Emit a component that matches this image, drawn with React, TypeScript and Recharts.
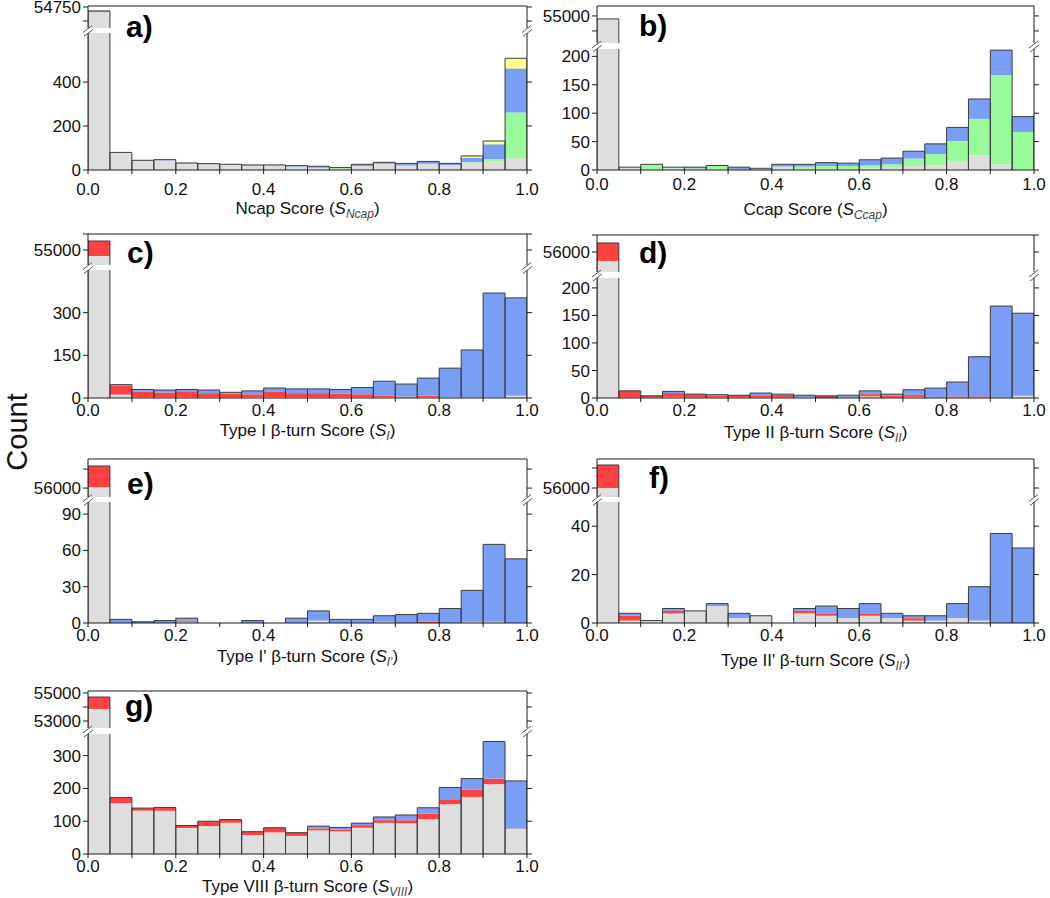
import React from "react";
import { BarChart, Bar, XAxis, YAxis, ReferenceLine } from "recharts";

// bin centres of the 20 score bins (0.05 wide)
const BIN_CENTERS = [
  0.025, 0.075, 0.125, 0.175, 0.225, 0.275, 0.325, 0.375, 0.425, 0.475,
  0.525, 0.575, 0.625, 0.675, 0.725, 0.775, 0.825, 0.875, 0.925, 0.975,
];
const X_TICKS = [0, 0.1, 0.2, 0.3, 0.4, 0.5, 0.6, 0.7, 0.8, 0.9, 1];

// a) Ncap
const aGray = [54660, 80, 44, 44, 29, 26, 26, 20, 22, 16, 10, 6, 18, 28, 20, 28, 22, 34, 41, 54];
const aGreen = [0, 0, 0, 0, 0, 0, 0, 0, 0, 0, 0, 5, 0, 0, 0, 0, 0, 2, 9, 208];
const aBlue = [20, 0, 0, 3, 3, 3, 0, 3, 1, 4, 7, 0, 8, 7, 10, 11, 8, 20, 67, 200];
const aYellow = [0, 0, 0, 0, 0, 0, 0, 0, 0, 0, 0, 0, 0, 0, 0, 0, 0, 8, 15, 46];

// b) Ccap
const bGray = [54950, 5, 1, 3, 1, 2, 0, 3, 5, 2, 2, 2, 3, 4, 7, 8, 16, 26, 10, 0];
const bGreen = [0, 0, 9, 2, 2, 5, 1, 0, 1, 4, 5, 5, 5, 6, 13, 20, 35, 64, 157, 67];
const bBlue = [0, 0, 0, 0, 2, 1, 4, 0, 4, 4, 6, 5, 10, 11, 13, 18, 24, 35, 44, 27];

// c) Type I
const cGray = [54625, 12, 3, 3, 3, 3, 2, 3, 3, 3, 3, 3, 3, 3, 2, 3, 3, 3, 3, 8];
const cRed = [935, 31, 20, 16, 18, 14, 14, 10, 20, 14, 14, 12, 10, 6, 3, 5, 0, 0, 0, 0];
const cBlue = [0, 4, 7, 9, 9, 11, 4, 12, 12, 15, 15, 15, 24, 50, 44, 62, 102, 166, 366, 344];

// d) Type II
const dGray = [55470, 1, 1, 2, 1, 1, 1, 1, 1, 1, 0, 1, 3, 1, 2, 1, 1, 1, 1, 4];
const dRed = [1060, 12, 3, 7, 6, 3, 4, 4, 5, 0, 4, 1, 4, 3, 4, 1, 2, 2, 0, 0];
const dBlue = [0, 0, 0, 3, 0, 2, 0, 4, 1, 4, 0, 3, 6, 3, 9, 16, 26, 72, 166, 150];

// e) Type I'
const eGray = [56050, 0, 0, 0, 1, 0, 0, 0, 0, 0, 2, 0, 0, 1, 0, 0, 0, 1, 1, 0];
const eRed = [1110, 0, 0, 0, 1, 0, 0, 0, 0, 0, 0, 0, 0, 0, 0, 1, 0, 0, 0, 0];
const eBlue = [0, 3, 1, 2, 2, 0, 0, 2, 0, 4, 8, 3, 3, 5, 7, 7, 12, 26, 64, 53];

// f) Type II'
const fGray = [56000, 1, 1, 4, 5, 7, 2, 3, 0, 4, 3, 2, 3, 2, 1, 1, 2, 1, 0, 0];
const fRed = [1150, 2, 0, 1, 0, 0, 0, 0, 0, 1, 1, 0, 1, 0, 1, 0, 0, 0, 0, 0];
const fBlue = [0, 1, 0, 1, 0, 1, 2, 0, 0, 1, 3, 4, 4, 2, 1, 2, 6, 14, 37, 31];

// g) Type VIII
const gGray = [53860, 155, 132, 132, 79, 85, 95, 58, 66, 55, 72, 69, 80, 95, 94, 106, 152, 174, 213, 77];
const gRed = [850, 17, 8, 10, 8, 15, 10, 10, 14, 10, 6, 6, 8, 8, 9, 17, 15, 22, 17, 1];
const gBlue = [0, 0, 0, 0, 0, 0, 0, 0, 0, 0, 7, 6, 6, 10, 16, 18, 36, 34, 113, 145];

const FONT = "'Liberation Sans', Arial, sans-serif";
const GRAY = "#dedede";
const GREEN = "#98fa98";
const BLUE = "#7b9ef5";
const YELLOW = "#ffff8a";
const RED = "#ff4141";
const EDGE = "#3c3c3c";
const AXIS = "#1a1a1a";
const TEXT = "#111";

const AXIS_W = 70;
const RIGHT_W = 15;

type Series = { key: string; values: number[]; color: string };

type PanelSpec = {
  left: number;
  width: number;
  top: number;
  upperBottom: number;
  lowerTop: number;
  bottom: number;
  upperDomain: [number, number];
  upperTicks: number[];
  upperLabels: number[];
  lowerDomain: [number, number];
  lowerTicks: number[];
  series: Series[];
  tag: string;
  tagX: number;
  tagY: number;
  title: string;
  sub: string;
  titleY: number;
  xGap: number;
};

const L1 = 88;
const W1 = 439;
const L2 = 597;
const W2 = 437;

const panels: PanelSpec[] = [
  {
    left: L1, width: W1, top: 6, upperBottom: 28, lowerTop: 33, bottom: 170,
    upperDomain: [54375, 54768], upperTicks: [54500, 54750], upperLabels: [54750],
    lowerDomain: [0, 623], lowerTicks: [0, 200, 400],
    series: [
      { key: "gray", values: aGray, color: GRAY },
      { key: "green", values: aGreen, color: GREEN },
      { key: "blue", values: aBlue, color: BLUE },
      { key: "yellow", values: aYellow, color: YELLOW },
    ],
    tag: "a)", tagX: 126, tagY: 37, title: "Ncap Score (", sub: "Ncap", titleY: 214, xGap: 9,
  },
  {
    left: L2, width: W2, top: 6, upperBottom: 43, lowerTop: 49, bottom: 170,
    upperDomain: [54550, 55165], upperTicks: [54750, 55000], upperLabels: [55000],
    lowerDomain: [0, 213], lowerTicks: [0, 50, 100, 150, 200],
    series: [
      { key: "gray", values: bGray, color: GRAY },
      { key: "green", values: bGreen, color: GREEN },
      { key: "blue", values: bBlue, color: BLUE },
    ],
    tag: "b)", tagX: 639, tagY: 36, title: "Ccap Score (", sub: "Ccap", titleY: 215, xGap: 4,
  },
  {
    left: L1, width: W1, top: 234, upperBottom: 265, lowerTop: 270, bottom: 398,
    upperDomain: [54060, 56000], upperTicks: [55000, 56000], upperLabels: [55000],
    lowerDomain: [0, 450], lowerTicks: [0, 150, 300],
    series: [
      { key: "gray", values: cGray, color: GRAY },
      { key: "red", values: cRed, color: RED },
      { key: "blue", values: cBlue, color: BLUE },
    ],
    tag: "c)", tagX: 127, tagY: 263, title: "Type I \u03b2-turn Score (", sub: "I", titleY: 436, xGap: 2,
  },
  {
    left: L2, width: W2, top: 235, upperBottom: 272, lowerTop: 278, bottom: 398,
    upperDomain: [54820, 57000], upperTicks: [56000, 57000], upperLabels: [56000],
    lowerDomain: [0, 218], lowerTicks: [0, 50, 100, 150, 200],
    series: [
      { key: "gray", values: dGray, color: GRAY },
      { key: "red", values: dRed, color: RED },
      { key: "blue", values: dBlue, color: BLUE },
    ],
    tag: "d)", tagX: 639, tagY: 263, title: "Type II \u03b2-turn Score (", sub: "II", titleY: 438, xGap: 2,
  },
  {
    left: L1, width: W1, top: 459, upperBottom: 497, lowerTop: 502, bottom: 623,
    upperDomain: [55530, 57530], upperTicks: [56000, 57000], upperLabels: [56000],
    lowerDomain: [0, 100], lowerTicks: [0, 30, 60, 90],
    series: [
      { key: "gray", values: eGray, color: GRAY },
      { key: "red", values: eRed, color: RED },
      { key: "blue", values: eBlue, color: BLUE },
    ],
    tag: "e)", tagX: 127, tagY: 494, title: "Type I' \u03b2-turn Score (", sub: "I'", titleY: 662, xGap: 2,
  },
  {
    left: L2, width: W2, top: 459, upperBottom: 497, lowerTop: 502, bottom: 623,
    upperDomain: [55550, 57450], upperTicks: [56000, 57000], upperLabels: [56000],
    lowerDomain: [0, 50], lowerTicks: [0, 20, 40],
    series: [
      { key: "gray", values: fGray, color: GRAY },
      { key: "red", values: fRed, color: RED },
      { key: "blue", values: fBlue, color: BLUE },
    ],
    tag: "f)", tagX: 649, tagY: 488, title: "Type II' \u03b2-turn Score (", sub: "II'", titleY: 666, xGap: 2,
  },
  {
    left: L1, width: W1, top: 691, upperBottom: 728, lowerTop: 734, bottom: 854,
    upperDomain: [52500, 55140], upperTicks: [53000, 54000, 55000], upperLabels: [53000, 55000],
    lowerDomain: [0, 366], lowerTicks: [0, 100, 200, 300],
    series: [
      { key: "gray", values: gGray, color: GRAY },
      { key: "red", values: gRed, color: RED },
      { key: "blue", values: gBlue, color: BLUE },
    ],
    tag: "g)", tagX: 125, tagY: 716, title: "Type VIII \u03b2-turn Score (", sub: "VIII", titleY: 892, xGap: 2,
  },
];

const tickStyle = { fontSize: 17, fill: TEXT, fontFamily: FONT };

// outline of a whole histogram column: sides and top only, so a broken column has no cap at the break
const OpenBox = (props: any) => {
  const { x, y, width, height } = props;
  if (![x, y, width, height].every((v) => Number.isFinite(v)) || height <= 0) return null;
  return (
    <path
      d={`M${x},${y + height}V${y}H${x + width}V${y + height}`}
      fill="none"
      stroke={EDGE}
      strokeWidth={1}
    />
  );
};

function Panel({ p }: { p: PanelSpec }) {
  const data = BIN_CENTERS.map((x, i) => {
    const row: Record<string, number | null> = { x };
    let total = 0;
    p.series.forEach((s) => {
      row[s.key] = s.values[i];
      total += s.values[i];
    });
    row.total = total;
    // only the bins that reach the upper (broken) segment get an outline there
    row.upperTotal = total > p.upperDomain[0] ? total : null;
    return row;
  });
  const barSize = p.width / 20 - 0.02;
  const chartW = AXIS_W + p.width + RIGHT_W;

  const renderBars = (outlineKey: string) => [
    ...p.series.map((s) => (
      <Bar
        key={s.key}
        dataKey={s.key}
        stackId="s"
        xAxisId="x"
        yAxisId="l"
        fill={s.color}
        barSize={barSize}
        isAnimationActive={false}
      />
    )),
    <Bar
      key="outline"
      dataKey={outlineKey}
      xAxisId="o"
      yAxisId="r"
      fill="none"
      stroke={EDGE}
      barSize={barSize}
      shape={OpenBox}
      isAnimationActive={false}
    />,
  ];

  const yAxes = (domain: [number, number], ticks: number[], fmt: (v: number) => string) => [
    <YAxis
      key="l"
      yAxisId="l"
      type="number"
      domain={domain}
      allowDataOverflow
      ticks={ticks}
      interval={0}
      width={AXIS_W}
      tickSize={5}
      tickMargin={2}
      tick={tickStyle}
      tickFormatter={fmt}
      axisLine={{ stroke: AXIS }}
      tickLine={{ stroke: AXIS }}
    />,
    <YAxis
      key="r"
      yAxisId="r"
      orientation="right"
      type="number"
      domain={domain}
      allowDataOverflow
      ticks={ticks}
      interval={0}
      width={RIGHT_W}
      tickSize={5}
      tickFormatter={() => ""}
      axisLine={{ stroke: AXIS }}
      tickLine={{ stroke: AXIS }}
    />,
  ];

  return (
    <>
      <div style={{ position: "absolute", left: p.left - AXIS_W, top: p.top - 10 }}>
        <BarChart
          width={chartW}
          height={p.upperBottom - p.top + 16}
          data={data}
          margin={{ top: 10, right: 0, bottom: 6, left: 0 }}
          barGap={0}
          barCategoryGap={0}
        >
          <XAxis xAxisId="x" dataKey="x" type="number" domain={[0, 1]} allowDataOverflow hide />
          <XAxis xAxisId="o" dataKey="x" type="number" domain={[0, 1]} allowDataOverflow hide orientation="top" />
          {yAxes(p.upperDomain, p.upperTicks, (v) => (p.upperLabels.includes(v) ? String(v) : ""))}
          {renderBars("upperTotal")}
          <ReferenceLine xAxisId="x" yAxisId="l" y={p.upperDomain[1]} stroke={AXIS} />
        </BarChart>
      </div>
      <div style={{ position: "absolute", left: p.left - AXIS_W, top: p.lowerTop - 8 }}>
        <BarChart
          width={chartW}
          height={p.bottom - p.lowerTop + 8 + 32}
          data={data}
          margin={{ top: 8, right: 0, bottom: 0, left: 0 }}
          barGap={0}
          barCategoryGap={0}
        >
          <XAxis
            xAxisId="x"
            dataKey="x"
            type="number"
            domain={[0, 1]}
            allowDataOverflow
            ticks={X_TICKS}
            interval={0}
            height={32}
            tickSize={4}
            tickMargin={p.xGap}
            tick={tickStyle}
            tickFormatter={(v: number) => (Math.round(v * 10) % 2 === 0 ? v.toFixed(1) : "")}
            axisLine={{ stroke: AXIS }}
            tickLine={{ stroke: AXIS }}
          />
          <XAxis xAxisId="o" dataKey="x" type="number" domain={[0, 1]} allowDataOverflow hide orientation="top" />
          {yAxes(p.lowerDomain, p.lowerTicks, (v) => String(v))}
          {renderBars("total")}
        </BarChart>
      </div>
    </>
  );
}

function BreakMarks({ x, y0, y1 }: { x: number; y0: number; y1: number }) {
  const m = (y0 + y1) / 2;
  return (
    <g stroke="#555" strokeWidth={1}>
      <line x1={x - 5} y1={m + 2} x2={x + 4} y2={m - 5} />
      <line x1={x - 4} y1={m + 6} x2={x + 5} y2={m - 1} />
    </g>
  );
}

export default function App() {
  return (
    <div
      style={{
        position: "absolute",
        left: 0,
        top: 0,
        width: 1050,
        height: 898,
        background: "#fff",
        fontFamily: FONT,
      }}
    >
      {panels.map((p, i) => (
        <Panel key={i} p={p} />
      ))}
      <svg
        width={1050}
        height={898}
        style={{ position: "absolute", left: 0, top: 0, pointerEvents: "none" }}
      >
        {panels.map((p, i) => (
          <g key={i}>
            <BreakMarks x={p.left} y0={p.upperBottom} y1={p.lowerTop} />
            <BreakMarks x={p.left + p.width} y0={p.upperBottom} y1={p.lowerTop} />
            <text x={p.tagX} y={p.tagY} fontSize={30} fontWeight="bold" fill="#000" fontFamily={FONT}>
              {p.tag}
            </text>
            <text
              x={p.left + p.width / 2}
              y={p.titleY}
              fontSize={17}
              textAnchor="middle"
              fill={TEXT}
              fontFamily={FONT}
            >
              {p.title}
              <tspan fontStyle="italic">S</tspan>
              <tspan fontStyle="italic" fontSize={12} dy={4} fill="#444">
                {p.sub}
              </tspan>
              <tspan dy={-4}>)</tspan>
            </text>
          </g>
        ))}
        <text
          x={27}
          y={432}
          fontSize={29}
          textAnchor="middle"
          fill={TEXT}
          fontFamily={FONT}
          transform="rotate(-90, 27, 432)"
        >
          Count
        </text>
      </svg>
    </div>
  );
}
